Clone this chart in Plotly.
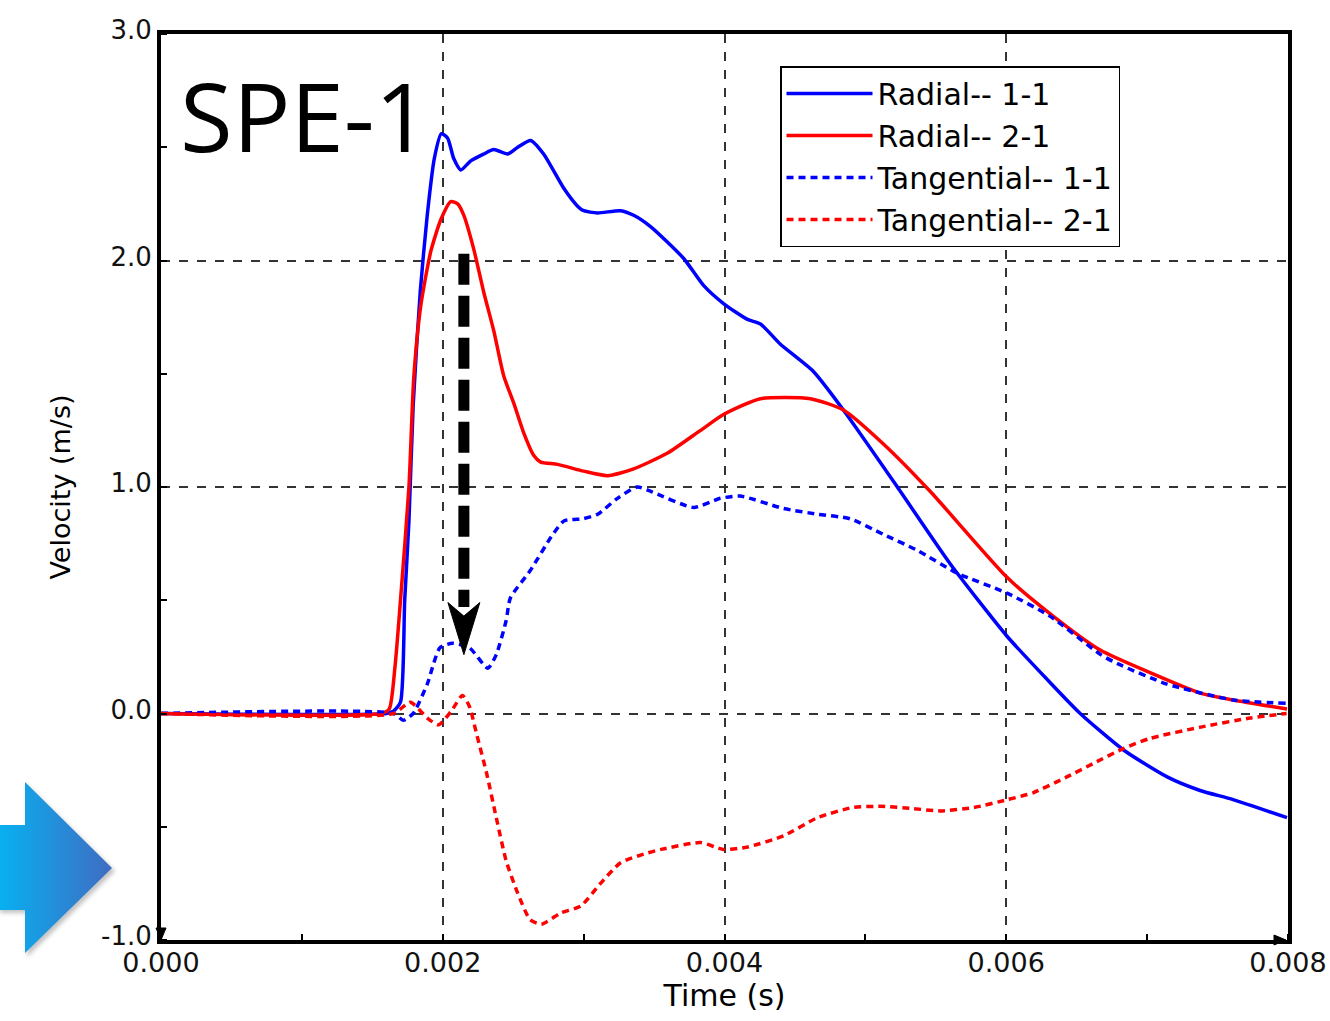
import base64
import plotly.graph_objects as go

# ---------------- data (time in ms, velocity in m/s) ----------------
radial_11_t = [0, 1.60, 1.65, 1.70, 1.73, 1.76, 1.79, 1.84, 1.89, 1.94, 1.99, 2.035, 2.078, 2.128,
               2.199, 2.291, 2.362, 2.461, 2.532, 2.624, 2.716, 2.858, 2.957, 3.0, 3.099, 3.262,
               3.355, 3.475, 3.709, 3.851, 3.993, 4.163, 4.255, 4.397, 4.631, 4.844, 5.227, 5.603,
               6.007, 6.291, 6.525, 6.83, 7.142, 7.376, 7.61, 7.993]
radial_11_v = [0, 0, 0.01, 0.05, 0.5, 0.85, 1.36, 1.86, 2.20, 2.45, 2.56, 2.54, 2.45, 2.40,
               2.44, 2.47, 2.49, 2.47, 2.50, 2.53, 2.47, 2.32, 2.24, 2.22, 2.21, 2.22,
               2.20, 2.15, 2.01, 1.89, 1.81, 1.74, 1.72, 1.63, 1.51, 1.34, 1.0, 0.66,
               0.34, 0.15, 0.0, -0.16, -0.28, -0.34, -0.38, -0.46]

radial_21_t = [0, 1.56, 1.62, 1.66, 1.70, 1.76, 1.794, 1.844, 1.915, 1.986, 2.057, 2.106, 2.149,
               2.220, 2.291, 2.362, 2.433, 2.504, 2.574, 2.645, 2.695, 2.816, 3.0, 3.170, 3.355,
               3.596, 3.830, 3.993, 4.255, 4.610, 4.844, 5.128, 5.461, 6.007, 6.312, 6.667,
               7.021, 7.376, 7.610, 7.993]
radial_21_v = [0, 0, 0.02, 0.2, 0.5, 1.0, 1.48, 1.80, 2.04, 2.18, 2.26, 2.25, 2.20,
               2.05, 1.86, 1.69, 1.49, 1.37, 1.24, 1.14, 1.11, 1.10, 1.07, 1.05, 1.08,
               1.15, 1.25, 1.32, 1.39, 1.39, 1.34, 1.19, 0.98, 0.60, 0.44, 0.28,
               0.18, 0.09, 0.06, 0.02]

tang_11_t = [0, 1.65, 1.72, 1.79, 1.89, 1.98, 2.07, 2.19, 2.32, 2.38, 2.45, 2.48, 2.62, 2.77,
             2.86, 3.0, 3.10, 3.24, 3.38, 3.48, 3.78, 3.97, 4.11, 4.42, 4.66, 4.89, 5.13,
             5.37, 5.65, 6.01, 6.31, 6.67, 6.79, 7.14, 7.61, 7.99]
tang_11_v = [0, 0, -0.03, 0.0, 0.13, 0.29, 0.31, 0.29, 0.20, 0.26, 0.41, 0.51, 0.63, 0.78,
             0.85, 0.86, 0.88, 0.95, 1.0, 0.98, 0.91, 0.95, 0.96, 0.905, 0.88, 0.86, 0.79,
             0.72, 0.62, 0.53, 0.43, 0.26, 0.22, 0.13, 0.06, 0.045]

tang_21_t = [0, 1.65, 1.77, 1.89, 1.97, 2.06, 2.14, 2.19, 2.24, 2.31, 2.38, 2.45, 2.53, 2.62,
             2.70, 2.84, 2.98, 3.12, 3.26, 3.43, 3.55, 3.83, 3.99, 4.16, 4.42, 4.66, 4.91,
             5.11, 5.34, 5.53, 5.77, 6.01, 6.19, 6.43, 6.62, 6.83, 7.02, 7.38, 7.73, 7.99]
tang_21_v = [0, 0, 0.05, -0.02, -0.05, 0.01, 0.08, 0.03, -0.09, -0.26, -0.46, -0.65, -0.79, -0.91,
             -0.93, -0.88, -0.85, -0.75, -0.66, -0.62, -0.60, -0.57, -0.60, -0.59, -0.54, -0.46, -0.415,
             -0.41, -0.42, -0.43, -0.415, -0.38, -0.35, -0.28, -0.22, -0.155, -0.11, -0.06, -0.02, 0.0]

series_names = ["Radial-- 1-1", "Radial-- 2-1", "Tangential-- 1-1", "Tangential-- 2-1"]
x_ticks = [0.000, 0.002, 0.004, 0.006, 0.008]
x_tick_labels = ["0.000", "0.002", "0.004", "0.006", "0.008"]
y_ticks = [-1.0, 0.0, 1.0, 2.0, 3.0]
y_tick_labels = ["-1.0", "0.0", "1.0", "2.0", "3.0"]

# ---------------- figure ----------------
W, H = 1330, 1021
L, R, T, B = 161, 1288, 34, 940
pw, ph = R - L, B - T


def px_x(p):
    return (p - L) / pw


def px_y(p):
    return (B - p) / ph


def ms(lst):
    return [v / 1000.0 for v in lst]


fig = go.Figure()
specs = [
    (radial_11_t, radial_11_v, "#0000ff", "solid"),
    (radial_21_t, radial_21_v, "#ff0000", "solid"),
    (tang_11_t, tang_11_v, "#0000ff", "7px,5px"),
    (tang_21_t, tang_21_v, "#ff0000", "7px,5px"),
]
for name, (t, v, c, d) in zip(series_names, specs):
    fig.add_trace(go.Scatter(
        x=ms(t), y=v, mode="lines", name=name, legendgroup=name,
        line=dict(color=c, width=3.5, dash=d, shape="spline", smoothing=0.6),
    ))

fig.update_xaxes(
    range=[0, 0.008], tickvals=x_ticks, ticktext=x_tick_labels,
    tickfont=dict(family="DejaVu Sans", size=27, color="#111111"),
    showline=True, linecolor="black", linewidth=4, mirror=True,
    showgrid=True, gridcolor="#333333", griddash="dash", gridwidth=1.5,
    ticks="", zeroline=False, automargin=False, ticklabelstandoff=-4,
    minor=dict(dtick=0.001, ticks="inside", ticklen=6, tickwidth=1.5, tickcolor="black", showgrid=False),
    title=dict(text="Time (s)", font=dict(family="DejaVu Sans", size=30, color="black"), standoff=0),
)
fig.update_yaxes(
    range=[-1, 3], tickvals=y_ticks, ticktext=y_tick_labels,
    tickfont=dict(family="DejaVu Sans", size=26, color="#111111"),
    showline=True, linecolor="black", linewidth=4, mirror=True,
    showgrid=True, gridcolor="#333333", griddash="dash", gridwidth=1.5,
    ticks="", zeroline=False, automargin=False, ticklabelshift=-4,
    minor=dict(dtick=0.5, ticks="inside", ticklen=6, tickwidth=1.5, tickcolor="black", showgrid=False),
    title=dict(text="Velocity (m/s)", font=dict(family="DejaVu Sans", size=27, color="black"), standoff=24),
)

# "SPE-1" label
fig.add_annotation(x=px_x(178), y=px_y(114), xref="paper", yref="paper", text="SPE-1",
                   showarrow=False, xanchor="left", yanchor="middle",
                   font=dict(family="Open Sans", size=96, color="black"))

# thick dashed black arrow
ax = 0.00215
fig.add_shape(type="line", xref="x", yref="y", x0=ax, x1=ax, y0=2.03, y1=0.47,
              line=dict(color="black", width=11, dash="31px,11px"))
hw = 16 / 141000.0
fig.add_shape(type="path", xref="x", yref="y",
              path=f"M {ax - hw},0.49 L {ax},0.26 L {ax + hw},0.49 L {ax},0.43 Z",
              fillcolor="black", line=dict(color="black", width=1))

# small arrowheads at axis ends
fig.add_shape(type="path", xref="paper", yref="paper",
              path=f"M {px_x(156)},{px_y(928)} L {px_x(161)},{px_y(940)} L {px_x(166)},{px_y(928)} Z",
              fillcolor="black", line=dict(color="black", width=1))
fig.add_shape(type="path", xref="paper", yref="paper",
              path=f"M {px_x(1274)},{px_y(935)} L {px_x(1286)},{px_y(940)} L {px_x(1274)},{px_y(945)} Z",
              fillcolor="black", line=dict(color="black", width=1))

# blue gradient arrow decoration at left
svg = """<svg xmlns='http://www.w3.org/2000/svg' width='125' height='195' viewBox='0 0 125 195'>
<defs><linearGradient id='g' x1='0' y1='0' x2='1' y2='0'>
<stop offset='0' stop-color='#08b0f0'/><stop offset='1' stop-color='#3f6cc2'/></linearGradient>
<filter id='s' x='-20%' y='-20%' width='140%' height='140%'><feGaussianBlur stdDeviation='2'/></filter></defs>
<polygon points='0,53 27,53 27,10 115,96 27,182 27,138 0,138' fill='#888' opacity='0.5' filter='url(#s)'/>
<polygon points='0,50 25,50 25,7 112,93 25,178 25,135 0,135' fill='url(#g)'/>
</svg>"""
src = "data:image/svg+xml;base64," + base64.b64encode(svg.encode()).decode()
fig.add_layout_image(source=src, xref="paper", yref="paper", x=px_x(0), y=px_y(775),
                     sizex=125 / pw, sizey=195 / ph, xanchor="left", yanchor="top",
                     sizing="stretch", layer="above")

fig.update_layout(
    width=W, height=H,
    margin=dict(l=L, r=W - R, t=T, b=H - B),
    paper_bgcolor="white", plot_bgcolor="white",
    showlegend=True,
    legend=dict(x=px_x(780), y=px_y(66), xanchor="left", yanchor="top",
                bordercolor="black", borderwidth=1.5, bgcolor="white",
                font=dict(family="DejaVu Sans", size=30, color="black"),
                itemwidth=86, tracegroupgap=0),
)

fig.write_html("out.html")
